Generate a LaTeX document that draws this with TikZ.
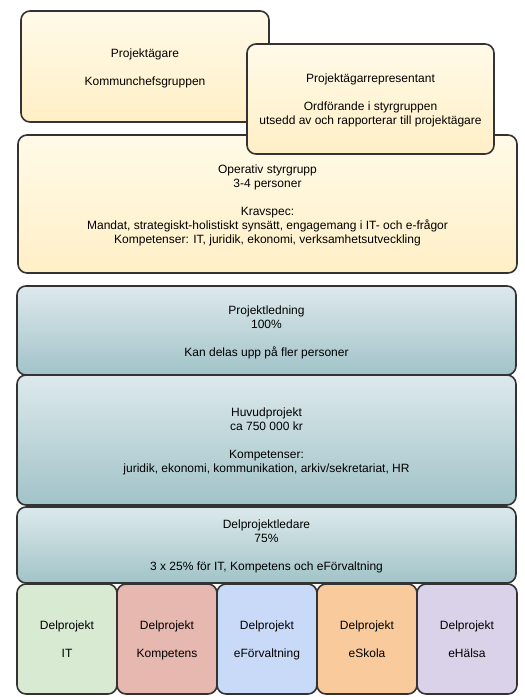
\documentclass[tikz,border=0pt]{standalone}
\usepackage{fontspec}
\setmainfont{Liberation Sans}
\newcommand\tstr{\rule{0pt}{14pt}}
\definecolor{strokec}{HTML}{333333}
\definecolor{ytop}{HTML}{FFFAE8}
\definecolor{ybot}{HTML}{FFEFC6}
\definecolor{btop}{HTML}{DDE9EC}
\definecolor{bbot}{HTML}{A1C3C8}
\definecolor{cgreen}{HTML}{D9EAD3}
\definecolor{cred}{HTML}{E6B8AF}
\definecolor{cblue}{HTML}{C9DAF8}
\definecolor{corange}{HTML}{F9CB9C}
\definecolor{cpurple}{HTML}{D9D2E9}
\tikzset{
  boxbase/.style={draw=strokec, line width=1.6pt, rounded corners=9pt, inner sep=0pt,
    align=center, font=\fontsize{12}{14}\selectfont, text=black},
  ybox/.style={boxbase, top color=ytop, bottom color=ybot},
  bbox/.style={boxbase, top color=btop, bottom color=bbot},
  subbox/.style={boxbase, minimum width=100pt, minimum height=110pt, fill=#1},
}
\begin{document}
\begin{tikzpicture}[x=1pt,y=-1pt]
\useasboundingbox (0,0) rectangle (525,697);
\node[ybox, minimum width=248pt, minimum height=111pt] (owner) at (145,66.5)
  {\tstr Projektägare\\[14pt]Kommunchefsgruppen\strut};
\node[ybox, minimum width=499pt, minimum height=138pt] (op) at (267.5,204)
  {\tstr Operativ styrgrupp\\3-4 personer\\[14pt]Kravspec:\\Mandat, strategiskt-holistiskt synsätt, engagemang i IT- och e-frågor\\Kompetenser: IT, juridik, ekonomi, verksamhetsutveckling\strut};
\node[ybox, minimum width=247pt, minimum height=110pt] (rep) at (370.5,99)
  {\tstr Projektägarrepresentant\\[14pt]Ordförande i styrgruppen\\utsedd av och rapporterar till projektägare\strut};
\node[bbox, minimum width=499pt, minimum height=89pt] (pl) at (266.5,330.5)
  {\tstr Projektledning\\100\%\\[14pt]Kan delas upp på fler personer\strut};
\node[bbox, minimum width=499pt, minimum height=130pt] (hp) at (266.5,440)
  {\tstr Huvudprojekt\\ca 750 000 kr\\[14pt]Kompetenser:\\juridik, ekonomi, kommunikation, arkiv/sekretariat, HR\strut};
\node[bbox, minimum width=499pt, minimum height=76pt] (dpl) at (266.5,545)
  {\tstr Delprojektledare\\75\%\\[14pt]3 x 25\% för IT, Kompetens och eFörvaltning\strut};
\node[subbox=cgreen] (d1) at (67,639) {\tstr Delprojekt\\[14pt]IT\strut};
\node[subbox=cred] (d2) at (167,639) {\tstr Delprojekt\\[14pt]Kompetens\strut};
\node[subbox=cblue] (d3) at (267,639) {\tstr Delprojekt\\[14pt]eFörvaltning\strut};
\node[subbox=corange] (d4) at (367,639) {\tstr Delprojekt\\[14pt]eSkola\strut};
\node[subbox=cpurple] (d5) at (467,639) {\tstr Delprojekt\\[14pt]eHälsa\strut};
\end{tikzpicture}
\end{document}
